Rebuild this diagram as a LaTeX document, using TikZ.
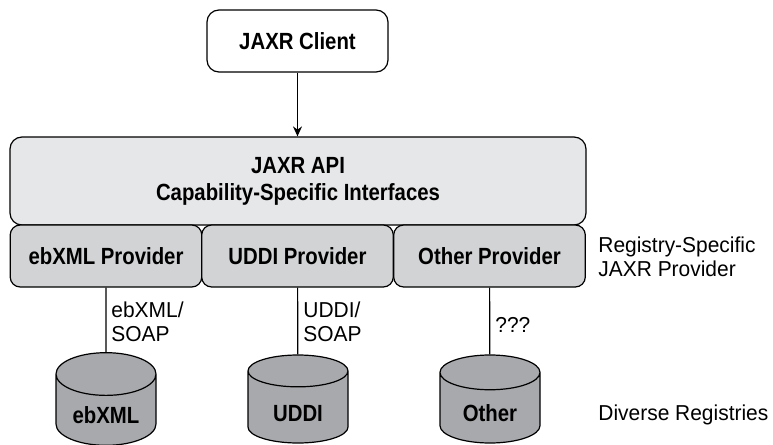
\documentclass[tikz,border=0pt]{standalone}
\usepackage{fontspec}
\setmainfont[FakeStretch=0.87]{Liberation Sans}
\newfontfamily\notefont[FakeStretch=0.97]{Liberation Sans}
\usetikzlibrary{arrows.meta,shapes.geometric}
\definecolor{apigray}{HTML}{E6E7E8}
\definecolor{provgray}{HTML}{D1D3D4}
\definecolor{dbgray}{HTML}{A7A9AC}
\tikzset{
  box/.style={draw,line width=0.6pt,rounded corners=6pt,align=center,inner sep=0pt,
    font=\bfseries\fontsize{11.7}{13.5}\selectfont},
  provider/.style={box,fill=provgray,rounded corners=5pt,minimum width=95.8pt,minimum height=31pt},
  registry/.style={draw,line width=0.6pt,fill=dbgray,cylinder,shape border rotate=90,aspect=0.64,
    minimum width=50pt,minimum height=44pt,inner sep=0pt,anchor=shape center,
    text height=14pt,text depth=0pt,font=\bfseries\fontsize{11.7}{13.5}\selectfont},
  note/.style={align=left,inner sep=0pt,font=\notefont\fontsize{10.8}{12}\selectfont}
}
\begin{document}
\begin{tikzpicture}[x=0.5pt,y=-0.5pt,>={Stealth[length=5pt,width=4.5pt]}]
  \useasboundingbox (0,0) rectangle (773,445);
  % client and api
  \node[box,fill=white,minimum width=90.5pt,minimum height=31pt] (client) at (297.5,41) {JAXR Client};
  \node[box,fill=apigray,minimum width=288pt,minimum height=44pt] (api) at (298,181) {JAXR API\\Capability-Specific Interfaces};
  \draw[->,line width=0.6pt] (client.south) -- (client.south |- api.north);
  % providers
  \node[provider] (ebprov) at (106,256) {ebXML Provider};
  \node[provider] (uddiprov) at (297.5,256) {UDDI Provider};
  \node[provider] (otherprov) at (489.5,256) {Other Provider};
  % registries
  \node[registry] (ebreg) at (106,399) {ebXML};
  \node[registry] (uddireg) at (298,399) {UDDI};
  \node[registry] (otherreg) at (490,399) {Other};
  \draw[line width=0.6pt] (ebprov) -- (ebreg);
  \draw[line width=0.6pt] (uddiprov) -- (uddireg);
  \draw[line width=0.6pt] (otherprov) -- (otherreg);
  % labels
  \node[note,anchor=west] (ebsoap) at (111,322) {ebXML/\\SOAP};
  \node[note,anchor=west] (uddisoap) at (303,322) {UDDI/\\SOAP};
  \node[note,anchor=west] (othersoap) at (495,325) {???};
  \node[note,anchor=west] (provnote) at (598,257) {Registry-Specific\\JAXR Provider};
  \node[note,anchor=west] (regnote) at (598,415) {Diverse Registries};
\end{tikzpicture}
\end{document}
